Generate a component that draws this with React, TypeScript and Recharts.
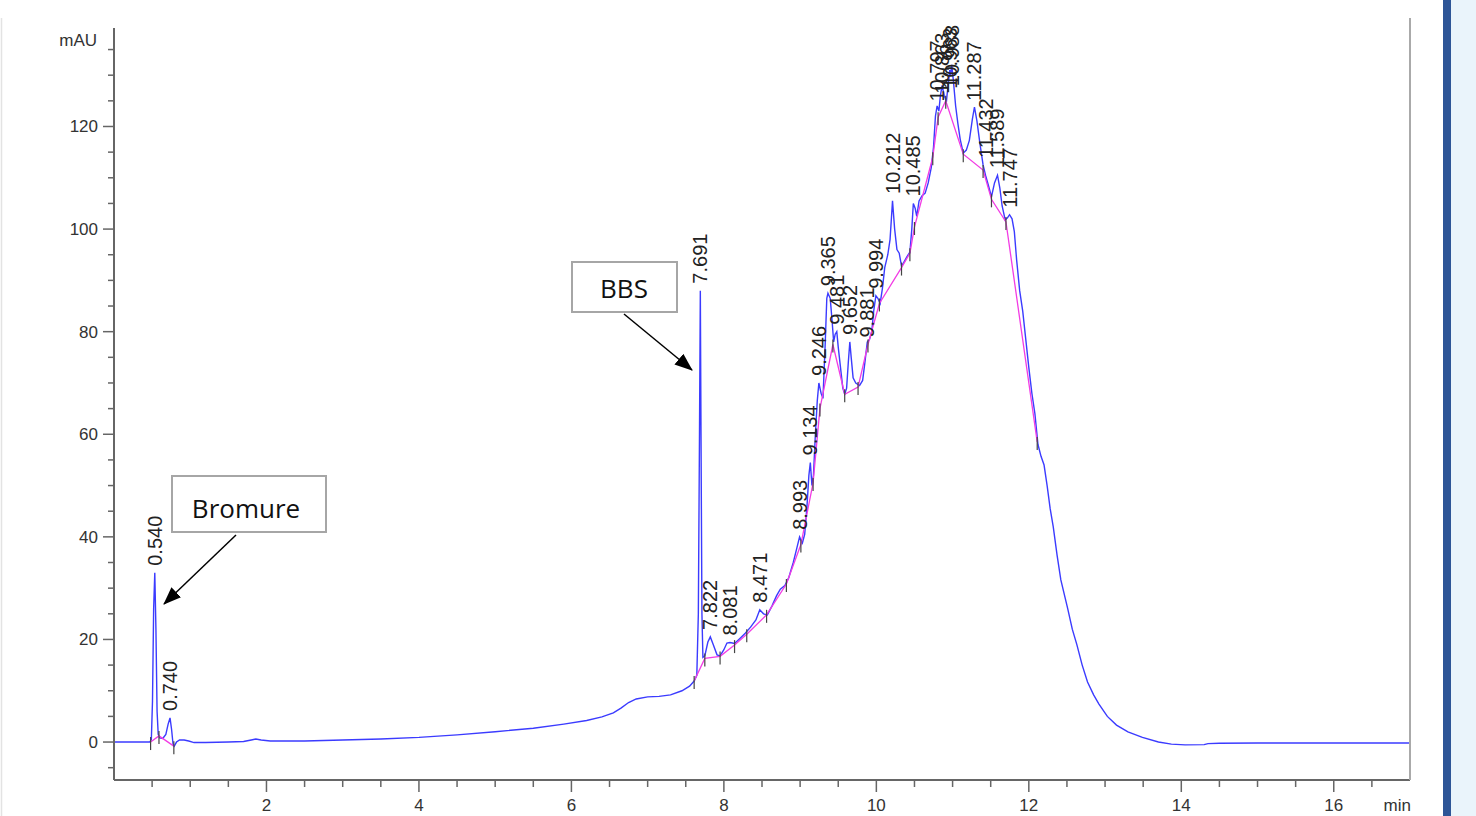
import React from "react";
import { ComposedChart, Line, Scatter, XAxis, YAxis } from "recharts";

// detector signal (mAU) vs retention time (min)
const trace: [number, number][] = [
  [0, 0], [0.3, 0], [0.47, 0], [0.49, 0.5], [0.505, 8], [0.52, 26], [0.535, 33], [0.55, 22],
  [0.565, 6], [0.58, 1.5], [0.6, 0.8], [0.64, 0.7], [0.68, 1.5], [0.71, 3.5], [0.735, 4.7],
  [0.755, 2.5], [0.775, -0.5], [0.79, -0.8], [0.82, 0], [0.86, 0.4], [0.92, 0.4], [0.98, 0.2],
  [1.05, -0.1], [1.2, -0.1], [1.5, 0], [1.7, 0.1], [1.8, 0.4], [1.86, 0.6], [1.93, 0.4],
  [2.05, 0.2], [2.5, 0.2], [3.0, 0.4], [3.5, 0.6], [4.0, 0.9], [4.5, 1.4], [5.0, 2.0],
  [5.5, 2.7], [5.9, 3.5], [6.2, 4.2], [6.4, 4.9], [6.55, 5.7], [6.65, 6.6], [6.75, 7.7],
  [6.85, 8.4], [7.0, 8.8], [7.15, 8.9], [7.3, 9.2], [7.45, 10.0], [7.55, 10.9], [7.61, 11.9],
  [7.645, 13], [7.665, 25], [7.68, 60], [7.691, 88], [7.7, 60], [7.712, 25], [7.725, 16.5],
  [7.75, 16.8], [7.79, 19.5], [7.822, 20.5], [7.86, 19], [7.91, 17], [7.95, 16.8], [8.0, 18],
  [8.04, 19.3], [8.08, 19.4], [8.14, 19.2], [8.21, 20.2], [8.28, 21.2], [8.35, 22.4],
  [8.42, 23.8], [8.471, 25.8], [8.52, 25.0], [8.57, 24.8], [8.63, 26.5], [8.69, 28.5],
  [8.74, 29.8], [8.8, 30.5], [8.85, 32], [8.91, 35], [8.96, 38], [8.993, 40], [9.03, 38.8],
  [9.06, 40.5], [9.09, 46], [9.115, 52], [9.134, 54.5], [9.155, 50], [9.175, 52], [9.2, 60],
  [9.225, 66.5], [9.246, 70], [9.275, 68], [9.3, 67], [9.33, 78], [9.35, 86.5], [9.365, 87.5],
  [9.395, 86.5], [9.42, 82], [9.44, 78], [9.46, 79.5], [9.481, 80], [9.5, 77], [9.53, 73],
  [9.56, 69], [9.585, 67.8], [9.61, 69], [9.632, 74], [9.652, 78], [9.67, 75], [9.695, 71],
  [9.73, 70], [9.78, 69.5], [9.82, 70.5], [9.85, 74], [9.881, 78], [9.91, 78.5], [9.94, 80],
  [9.965, 84], [9.994, 87], [10.02, 86.5], [10.05, 85.5], [10.08, 88.5], [10.11, 92.5],
  [10.15, 95], [10.18, 98], [10.212, 105.5], [10.24, 100], [10.27, 96], [10.3, 95.3],
  [10.33, 92.8], [10.36, 93.5], [10.4, 94.6], [10.44, 95.5], [10.465, 100], [10.485, 105],
  [10.51, 104], [10.53, 102.5], [10.56, 105.5], [10.6, 106.5], [10.64, 107], [10.68, 109],
  [10.72, 112], [10.75, 116], [10.775, 122], [10.797, 124], [10.82, 123], [10.84, 126],
  [10.863, 128], [10.89, 126], [10.92, 125], [10.94, 128], [10.963, 131], [10.975, 130],
  [10.988, 132], [11.01, 129], [11.04, 124], [11.07, 120.5], [11.1, 117.5], [11.14, 114.8],
  [11.18, 115.4], [11.22, 117.3], [11.26, 121.5], [11.287, 123.8], [11.32, 121], [11.36, 116.5],
  [11.4, 112.5], [11.432, 110.5], [11.47, 108.5], [11.51, 106.3], [11.55, 109], [11.589, 110.5],
  [11.62, 108], [11.65, 104.5], [11.69, 101.8], [11.72, 102.2], [11.747, 102.8], [11.78, 102],
  [11.81, 99.5], [11.84, 94], [11.88, 88], [11.92, 84], [11.96, 78.5], [12.0, 73], [12.04, 68],
  [12.08, 64], [12.12, 58], [12.16, 55.7], [12.2, 54], [12.24, 50], [12.28, 45.5], [12.32, 42],
  [12.37, 36.5], [12.42, 31.6], [12.47, 28.5], [12.51, 26], [12.57, 22], [12.63, 19],
  [12.7, 15], [12.77, 11.7], [12.85, 9.2], [12.92, 7.4], [13.03, 5], [13.15, 3.3], [13.3, 2.0],
  [13.49, 0.9], [13.7, 0], [13.87, -0.4], [14.05, -0.55], [14.3, -0.5], [14.35, -0.3],
  [14.5, -0.25], [15.0, -0.2], [16.0, -0.2], [17.0, -0.2],
];

// integration baselines (pink) and their boundary marks
const baselineEarly: [number, number][] = [[0.48, 0], [0.59, 1.2], [0.785, -0.8]];
const baselineMain: [number, number][] = [
  [7.61, 11.9], [7.75, 16.3], [7.95, 16.7], [8.14, 18.9], [8.3, 21.0], [8.56, 24.8],
  [8.82, 30.8], [9.01, 38.5], [9.17, 50.5], [9.26, 65], [9.43, 77.5], [9.585, 67.8],
  [9.76, 69.2], [9.89, 77.5], [10.04, 85.5], [10.33, 92.5], [10.44, 95.3], [10.5, 100.4],
  [10.74, 114], [10.81, 121.8], [10.91, 125], [11.14, 114.6], [11.4, 111.5], [11.51, 105.8],
  [11.7, 101.4], [12.11, 58.5],
];

const peakNames = [
  "0.540", "0.740", "7.691", "7.822", "8.081", "8.471", "8.993", "9.134", "9.246", "9.365",
  "9.481", "9.652", "9.881", "9.994", "10.212", "10.485", "10.797", "10.863", "10.963",
  "10.988", "11.287", "11.432", "11.589", "11.747",
];
const peakApex = [
  33, 4.7, 88, 20.5, 19.4, 25.8, 40, 54.5, 70, 87.5, 80, 78, 77.5, 87, 105.5, 105, 123.5, 125,
  126, 126.5, 123.6, 112.5, 110.5, 102.8,
];

const xTicks = Array.from({ length: 34 }, (_, i) => (i + 1) * 0.5);
const yTicks = Array.from({ length: 29 }, (_, i) => -5 + i * 5);

const toPts = (arr: [number, number][]) => arr.map(([t, v]) => ({ t, v }));
const traceData = toPts(trace);
const baseA = toPts(baselineEarly);
const baseB = toPts(baselineMain);
const marks = [...baseA, ...baseB];
const peaks = peakNames.map((label, i) => ({ t: parseFloat(label), v: peakApex[i], label }));

const FONT = "'Liberation Sans', Arial, sans-serif";

function XTick({ x, y, payload }: any) {
  const val = payload.value;
  if (val === 17) {
    return (
      <text x={x + 1} y={y + 31} textAnchor="end" fontSize={17} fill="#333" fontFamily={FONT}>min</text>
    );
  }
  const major = val % 2 === 0;
  return (
    <g>
      <line x1={x} x2={x} y1={y} y2={y + (major ? 12 : 7)} stroke="#666" strokeWidth={1.5} />
      {major && (
        <text x={x} y={y + 31} textAnchor="middle" fontSize={17} fill="#333" fontFamily={FONT}>{val}</text>
      )}
    </g>
  );
}

function YTick({ x, y, payload }: any) {
  const val = payload.value;
  const major = val % 20 === 0 && val >= 0;
  return (
    <g>
      <line x1={x - (major ? 11 : 6)} x2={x} y1={y} y2={y} stroke="#666" strokeWidth={1.5} />
      {major && (
        <text x={x - 16} y={y + 6} textAnchor="end" fontSize={17} fill="#333" fontFamily={FONT}>{val}</text>
      )}
    </g>
  );
}

function BoundaryMark({ cx, cy }: any) {
  return <line x1={cx} x2={cx} y1={cy - 5} y2={cy + 8} stroke="#444" strokeWidth={1.2} />;
}

function PeakLabel({ cx, cy, payload }: any) {
  const by = cy - 7;
  return (
    <text
      x={cx}
      y={by}
      transform={`rotate(-90 ${cx} ${by})`}
      textAnchor="start"
      dominantBaseline="central"
      fontSize={20}
      fill="#222"
      fontFamily={FONT}
    >
      {payload.label}
    </text>
  );
}

export default function App() {
  return (
    <div style={{ position: "absolute", left: 0, top: 0, width: 1476, height: 816, background: "#fff", overflow: "hidden" }}>
      <ComposedChart width={1476} height={816} margin={{ top: 28, right: 66, bottom: 6, left: 54 }}>
        <XAxis
          type="number"
          dataKey="t"
          domain={[0, 17]}
          ticks={xTicks}
          interval={0}
          height={30}
          tickSize={0}
          tickMargin={0}
          tickLine={false}
          axisLine={{ stroke: "#666", strokeWidth: 2 }}
          tick={(p: any) => <XTick {...p} />}
        />
        <YAxis
          type="number"
          dataKey="v"
          domain={[-7.4, 139.2]}
          ticks={yTicks}
          interval={0}
          width={60}
          tickSize={0}
          tickMargin={0}
          tickLine={false}
          axisLine={{ stroke: "#666", strokeWidth: 2 }}
          tick={(p: any) => <YTick {...p} />}
        />
        <Line data={traceData} dataKey="v" type="linear" stroke="#3b3bff" strokeWidth={1.4} dot={false} isAnimationActive={false} />
        <Line data={baseA} dataKey="v" type="linear" stroke="#f23ce4" strokeWidth={1.3} dot={false} isAnimationActive={false} />
        <Line data={baseB} dataKey="v" type="linear" stroke="#f23ce4" strokeWidth={1.3} dot={false} isAnimationActive={false} />
        <Scatter data={marks} dataKey="v" shape={(p: any) => <BoundaryMark {...p} />} isAnimationActive={false} />
        <Scatter data={peaks} dataKey="v" shape={(p: any) => <PeakLabel {...p} />} isAnimationActive={false} />
      </ComposedChart>

      <svg width={1476} height={816} style={{ position: "absolute", left: 0, top: 0, pointerEvents: "none" }}>
        <defs>
          <marker id="ah" markerUnits="userSpaceOnUse" markerWidth={18} markerHeight={14} refX={17} refY={7} orient="auto">
            <path d="M0,0 L18,7 L0,14 Z" fill="#000" />
          </marker>
        </defs>
        <line x1={1.5} x2={1.5} y1={18} y2={816} stroke="#e3e3e3" strokeWidth={1.5} />
        <line x1={1410} x2={1410} y1={18} y2={780} stroke="#aaa" strokeWidth={2} />
        <rect x={1443} y={0} width={8} height={816} fill="#2e5597" />
        <rect x={1451} y={0} width={25} height={816} fill="#eaf4fb" />
        <text x={97} y={46} textAnchor="end" fontSize={17} fill="#333" fontFamily={FONT}>mAU</text>

        <rect x={172} y={476} width={154} height={56} fill="#fff" stroke="#a6a6a6" strokeWidth={2} />
        <text x={246} y={508} textAnchor="middle" dominantBaseline="central" fontSize={26} fill="#111" fontFamily="'Open Sans', sans-serif">Bromure</text>
        <line x1={236} y1={535} x2={164} y2={604} stroke="#000" strokeWidth={1.5} markerEnd="url(#ah)" />

        <rect x={572} y={262} width={105} height={50} fill="#fff" stroke="#a6a6a6" strokeWidth={2} />
        <text x={624} y={288} textAnchor="middle" dominantBaseline="central" fontSize={26} fill="#111" fontFamily="'Open Sans', sans-serif">BBS</text>
        <line x1={624} y1={314} x2={692} y2={370} stroke="#000" strokeWidth={1.5} markerEnd="url(#ah)" />
      </svg>
    </div>
  );
}
